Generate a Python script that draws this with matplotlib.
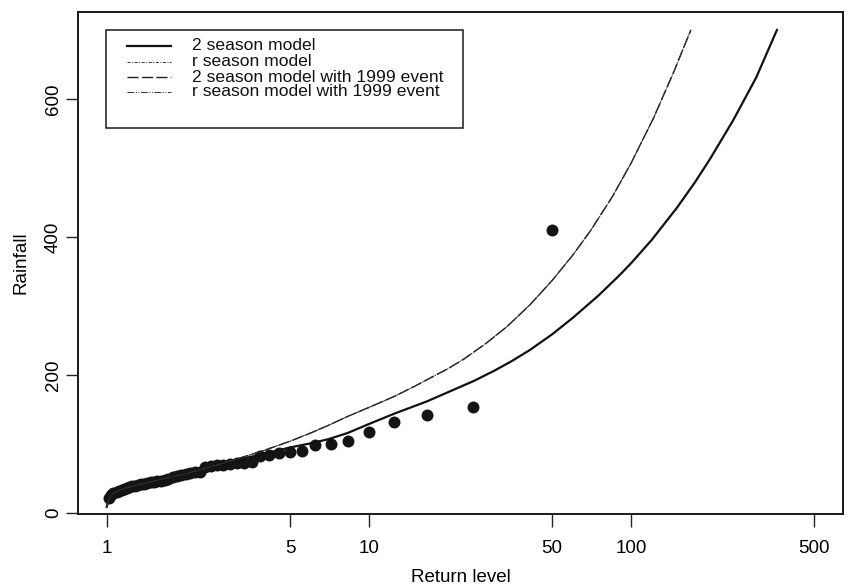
import matplotlib
matplotlib.use("Agg")
import matplotlib.pyplot as plt
from matplotlib.lines import Line2D
from matplotlib.patches import Rectangle
from matplotlib.ticker import FixedLocator, FixedFormatter, NullLocator

plt.rcParams['font.family'] = ['Liberation Sans', 'DejaVu Sans']
plt.rcParams['lines.scale_dashes'] = False

# ---- data ----
return_period = [1.02, 1.04, 1.06, 1.09, 1.11, 1.14, 1.16, 1.19, 1.22, 1.25,
                 1.28, 1.32, 1.35, 1.39, 1.43, 1.47, 1.52, 1.56, 1.61, 1.67,
                 1.72, 1.79, 1.85, 1.92, 2.00, 2.08, 2.17, 2.27, 2.38, 2.50,
                 2.63, 2.78, 2.94, 3.13, 3.33, 3.57, 3.85, 4.17, 4.55, 5.00,
                 5.56, 6.25, 7.14, 8.33, 10.00, 12.50, 16.67, 25.00, 50.00]
rainfall = [22, 26, 29, 31, 32.5, 34, 35.5, 36.5, 37.5, 38.5,
            39.5, 40.5, 41.5, 42.5, 43.5, 44.5, 45, 46, 47, 48.5,
            50, 51.5, 53, 54.5, 56, 57.5, 59, 60, 66, 68,
            69, 70, 71, 72, 73, 74, 83, 84, 86.5, 88.5,
            90, 98.5, 100, 104.5, 118, 132, 142, 153.5, 410.5]

T_two = [1.0, 1.02, 1.05, 1.1, 1.2, 1.35, 1.5, 1.75, 2, 2.5, 3, 3.5, 4, 5, 6,
         7, 8.3, 10, 12.5, 16.7, 20, 25, 30, 35, 41, 50, 60, 75, 90, 100, 120,
         150, 175, 200, 245, 300, 360]
level_two = [9, 20, 27, 32, 37, 42, 46, 52, 57, 66, 75, 81, 86, 95, 101,
             107, 116, 129, 144, 162, 175, 191, 206, 220, 236, 259, 283, 315, 344, 362, 396,
             443, 479, 513, 569, 631, 700]

T_r = [1.0, 1.02, 1.05, 1.1, 1.2, 1.35, 1.5, 1.75, 2, 2.5, 3, 3.5, 4, 5, 6,
       7, 8.3, 10, 12.5, 15, 17, 20, 23, 28, 33.6, 41.2, 50, 60, 70, 85, 100,
       122, 145, 169]
level_r = [9, 20, 27, 32, 37, 42, 46, 52, 57, 67, 76, 84, 91, 104, 116,
           127, 140, 153, 169, 184, 195, 209, 223, 246, 270, 302, 337, 374, 409, 459, 507,
           573, 638, 700]
level_two_1999 = list(level_r)
level_r_1999 = list(level_r)

xticks = [1, 5, 10, 50, 100, 500]
xtick_labels = ["1", "5", "10", "50", "100", "500"]
yticks = [0, 200, 400, 600]
legend_labels = ["2 season model", "r season model",
                 "2 season model with 1999 event", "r season model with 1999 event"]

# ---- layout ----
W, H = 848, 587
fig = plt.figure(figsize=(W / 100, H / 100), dpi=100)
L, R, T, B = 78, 843, 12, 514
ax = fig.add_axes([L / W, (H - B) / H, (R - L) / W, (B - T) / H])

ax.set_xscale('log')
ax.set_xlim(0.777, 643)
ax.set_ylim(-1.4, 726)

ink = '#141414'
ax.plot(return_period, rainfall, 'o', color=ink, markersize=8.6, markeredgewidth=0, zorder=3)

styles = [
    dict(ls='-', lw=1.6, color='#111111'),
    dict(ls=(0, (2.2, 1.1, 0.7, 1.1)), lw=0.7, color='#333333'),
    dict(ls=(0, (8, 2.4)), lw=1.0, color='#222222'),
    dict(ls=(0, (5, 1.1, 0.7, 1.1, 0.7, 1.1)), lw=0.7, color='#333333'),
]
ax.plot(T_two, level_two, zorder=4, **styles[0])
ax.plot(T_r, level_r, zorder=4, **styles[1])
ax.plot(T_r, level_two_1999, zorder=4, **styles[2])
ax.plot(T_r, level_r_1999, zorder=4, **styles[3])

ax.xaxis.set_major_locator(FixedLocator(xticks))
ax.xaxis.set_major_formatter(FixedFormatter(xtick_labels))
ax.xaxis.set_minor_locator(NullLocator())
ax.set_yticks(yticks)
ax.tick_params(axis='both', direction='out', length=9, width=1, color='#222222',
               labelsize=13.5)
ax.tick_params(axis='x', pad=9.5)
ax.tick_params(axis='y', pad=2.5)
for lab in ax.get_yticklabels():
    lab.set_rotation(90)
    lab.set_va('center')

for s in ax.spines.values():
    s.set_linewidth(1.4)
    s.set_color('#1a1a1a')

ax.set_xlabel('Return level', fontsize=13.5)
ax.xaxis.set_label_coords(0.5, (B - 577) / (B - T))
ax.xaxis.label.set_va('center')
ax.set_ylabel('Rainfall', fontsize=13.5)
ax.yaxis.set_label_coords((21 - L) / (R - L), 0.5)
ax.yaxis.label.set_va('center')

# ---- legend (drawn in figure pixels) ----
def fx(px):
    return px / W

def fy(py):
    return 1 - py / H

fig.patches.append(Rectangle((fx(106), fy(128)), fx(463) - fx(106), fy(30) - fy(128),
                             transform=fig.transFigure, fill=False, lw=1.1,
                             edgecolor='#1a1a1a'))
rows = [46, 61.5, 77, 92]
for yy, st, lab in zip(rows, styles, legend_labels):
    fig.add_artist(Line2D([fx(127), fx(171)], [fy(yy), fy(yy)],
                          transform=fig.transFigure, **st))
    fig.text(fx(192), fy(yy), lab, fontsize=12.6, va='center', ha='left', color='#111111')

fig.savefig('out.png', dpi=100)
